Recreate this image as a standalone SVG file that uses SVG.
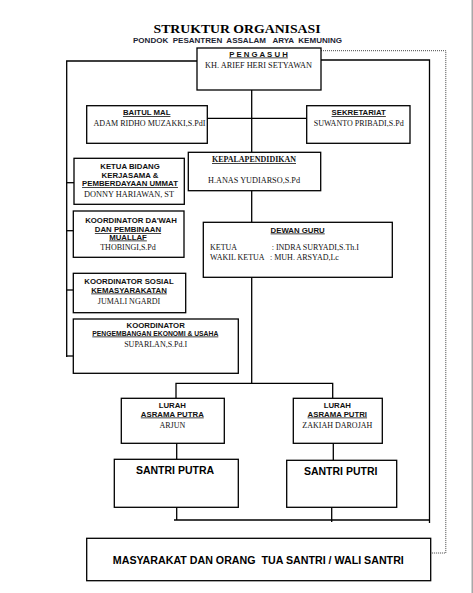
<svg xmlns="http://www.w3.org/2000/svg" width="473" height="593" viewBox="0 0 473 593">
<style>
.box{fill:#fff;stroke:#000;stroke-width:1.3}
.ln{stroke:#000;stroke-width:1.3;fill:none}
.dot{stroke:#444;stroke-width:1;stroke-dasharray:1 1;fill:none}
.h{font-family:"Liberation Sans",Arial,sans-serif;font-weight:bold;font-size:7.8px;text-anchor:middle;fill:#111}
.n{font-family:"Liberation Serif","Times New Roman",serif;font-size:8px;text-anchor:middle;fill:#111}
.l{text-anchor:start}
.u{text-decoration:underline}
.big{font-family:"Liberation Sans",Arial,sans-serif;font-weight:bold;font-size:10.5px;text-anchor:middle;fill:#000}
</style>
<rect width="473" height="593" fill="#fff"/>
<rect x="471.5" y="0" width="1.5" height="593" fill="#a8a8a8"/>
<text x="237" y="33" font-family="Liberation Serif,serif" font-weight="bold" font-size="13px" text-anchor="middle" textLength="167" lengthAdjust="spacingAndGlyphs">STRUKTUR ORGANISASI</text>
<text x="237.5" y="42.5" font-family="Liberation Sans,Arial,sans-serif" font-weight="bold" font-size="7px" text-anchor="middle" fill="#1c2333" textLength="209" lengthAdjust="spacingAndGlyphs" xml:space="preserve">PONDOK  PESANTREN  ASSALAM   ARYA  KEMUNING</text>
<g id="connectors">
<polyline class="ln" points="197,61 66.7,61 66.7,357"/>
<line class="ln" x1="66.7" y1="182.7" x2="74" y2="182.7"/>
<line class="ln" x1="66.7" y1="230.7" x2="73.3" y2="230.7"/>
<line class="ln" x1="66.7" y1="290" x2="73.3" y2="290"/>
<line class="ln" x1="66.7" y1="356" x2="73.3" y2="356"/>
<polyline class="ln" points="321,60 429.5,60 429.5,523"/>
<line class="ln" x1="251.7" y1="90" x2="251.7" y2="152.3"/>
<line class="ln" x1="207.3" y1="118.3" x2="306.7" y2="118.3"/>
<line class="ln" x1="251.7" y1="190.7" x2="251.7" y2="222.3"/>
<line class="ln" x1="251.7" y1="277.3" x2="251.7" y2="383.3"/>
<polyline class="ln" points="176,398.3 176,383.3 332.7,383.3 332.7,398.3"/>
<line class="ln" x1="176.7" y1="439" x2="176.7" y2="459.3"/>
<line class="ln" x1="333.3" y1="443.3" x2="333.3" y2="460.3"/>
<line class="ln" x1="176.7" y1="507.3" x2="176.7" y2="520"/>
<line class="ln" x1="331.7" y1="507.3" x2="331.7" y2="522"/>
<line class="ln" x1="174" y1="520" x2="429.5" y2="520"/>
<polyline class="dot" points="321,50.7 445.8,50.7 445.8,553 430.7,553"/>
</g>
<g id="pengasuh">
<rect class="box" x="197" y="48" width="124" height="42"/>
<text class="h u" x="258.5" y="56.5" font-size="7px" xml:space="preserve">P E N G A S U H</text>
<text class="n" x="258.5" y="67.5" textLength="107" lengthAdjust="spacingAndGlyphs">KH. ARIEF HERI SETYAWAN</text>
</g>
<g id="baitul-mal">
<rect class="box" x="86.7" y="105.7" width="120.6" height="37.6"/>
<text class="h u" x="146.7" y="115">BAITUL MAL</text>
<text class="n" x="149.5" y="125.5" textLength="112" lengthAdjust="spacingAndGlyphs">ADAM RIDHO MUZAKKI,S.PdI</text>
</g>
<g id="sekretariat">
<rect class="box" x="306.7" y="105.7" width="103.3" height="37.6"/>
<text class="h u" x="358.7" y="115">SEKRETARIAT</text>
<text class="n" x="358.7" y="125.5" textLength="90" lengthAdjust="spacingAndGlyphs">SUWANTO PRIBADI,S.Pd</text>
</g>
<g id="kepala-pendidikan">
<rect class="box" x="188.3" y="152.3" width="132.4" height="38.4"/>
<text class="n u" x="254" y="162" font-weight="bold" textLength="84" lengthAdjust="spacingAndGlyphs">KEPALAPENDIDIKAN</text>
<text class="n" x="254" y="183" textLength="92" lengthAdjust="spacingAndGlyphs">H.ANAS YUDIARSO,S.Pd</text>
</g>
<g id="ketua-bidang">
<rect class="box" x="74" y="158.3" width="110.3" height="46"/>
<text class="h" x="130" y="169">KETUA BIDANG</text>
<text class="h" x="130" y="177.5">KERJASAMA &amp;</text>
<text class="h u" x="130" y="186">PEMBERDAYAAN UMMAT</text>
<text class="n" x="129" y="196.5" textLength="90" lengthAdjust="spacingAndGlyphs">DONNY HARIAWAN, ST</text>
</g>
<g id="koordinator-dawah">
<rect class="box" x="73.3" y="211" width="110.7" height="46.3"/>
<text class="h" x="131" y="223">KOORDINATOR DA'WAH</text>
<text class="h u" x="128" y="232">DAN PEMBINAAN</text>
<text class="h u" x="128" y="239.5">MUALLAF</text>
<text class="n" x="128" y="249.5">THOBINGI,S.Pd</text>
</g>
<g id="dewan-guru">
<rect class="box" x="203.3" y="222.3" width="189" height="55"/>
<text class="h u" x="297.7" y="232.5">DEWAN GURU</text>
<text class="n l" x="210" y="250">KETUA</text>
<text class="n l" x="271.7" y="250">: INDRA SURYADI,S.Th.I</text>
<text class="n l" x="210" y="260">WAKIL KETUA</text>
<text class="n l" x="270" y="260">: MUH. ARSYAD,Lc</text>
</g>
<g id="koordinator-sosial">
<rect class="box" x="73.3" y="273.3" width="112.4" height="39.4"/>
<text class="h" x="129" y="284">KOORDINATOR SOSIAL</text>
<text class="h u" x="129" y="292.5">KEMASYARAKATAN</text>
<text class="n" x="129" y="303.5">JUMALI NGARDI</text>
</g>
<g id="koordinator-ekonomi">
<rect class="box" x="73.3" y="319" width="165" height="54.3"/>
<text class="h" x="155.7" y="328">KOORDINATOR</text>
<text class="h u" x="155.3" y="335.5" font-size="6.5px" textLength="126" lengthAdjust="spacingAndGlyphs">PENGEMBANGAN EKONOMI &amp; USAHA</text>
<text class="n" x="155.7" y="347">SUPARLAN,S.Pd.I</text>
</g>
<g id="lurah-putra">
<rect class="box" x="121.3" y="398.3" width="103" height="45"/>
<text class="h" x="172.3" y="408">LURAH</text>
<text class="h u" x="172.3" y="416.5">ASRAMA PUTRA</text>
<text class="n" x="172.3" y="427.5">ARJUN</text>
</g>
<g id="lurah-putri">
<rect class="box" x="293.3" y="398.3" width="89" height="45"/>
<text class="h" x="337.3" y="408">LURAH</text>
<text class="h u" x="337.3" y="416.5">ASRAMA PUTRI</text>
<text class="n" x="337.3" y="427.5">ZAKIAH DAROJAH</text>
</g>
<g id="santri-putra">
<rect class="box" x="114.3" y="459.3" width="124" height="48"/>
<text class="big" x="175" y="473.5">SANTRI PUTRA</text>
</g>
<g id="santri-putri">
<rect class="box" x="286.7" y="460.3" width="110" height="47"/>
<text class="big" x="340.7" y="475">SANTRI PUTRI</text>
</g>
<g id="masyarakat">
<rect class="box" x="86.7" y="538.3" width="344" height="42.4"/>
<text class="big" x="258.3" y="564" textLength="291" lengthAdjust="spacingAndGlyphs" xml:space="preserve">MASYARAKAT DAN ORANG  TUA SANTRI / WALI SANTRI</text>
</g>
</svg>
